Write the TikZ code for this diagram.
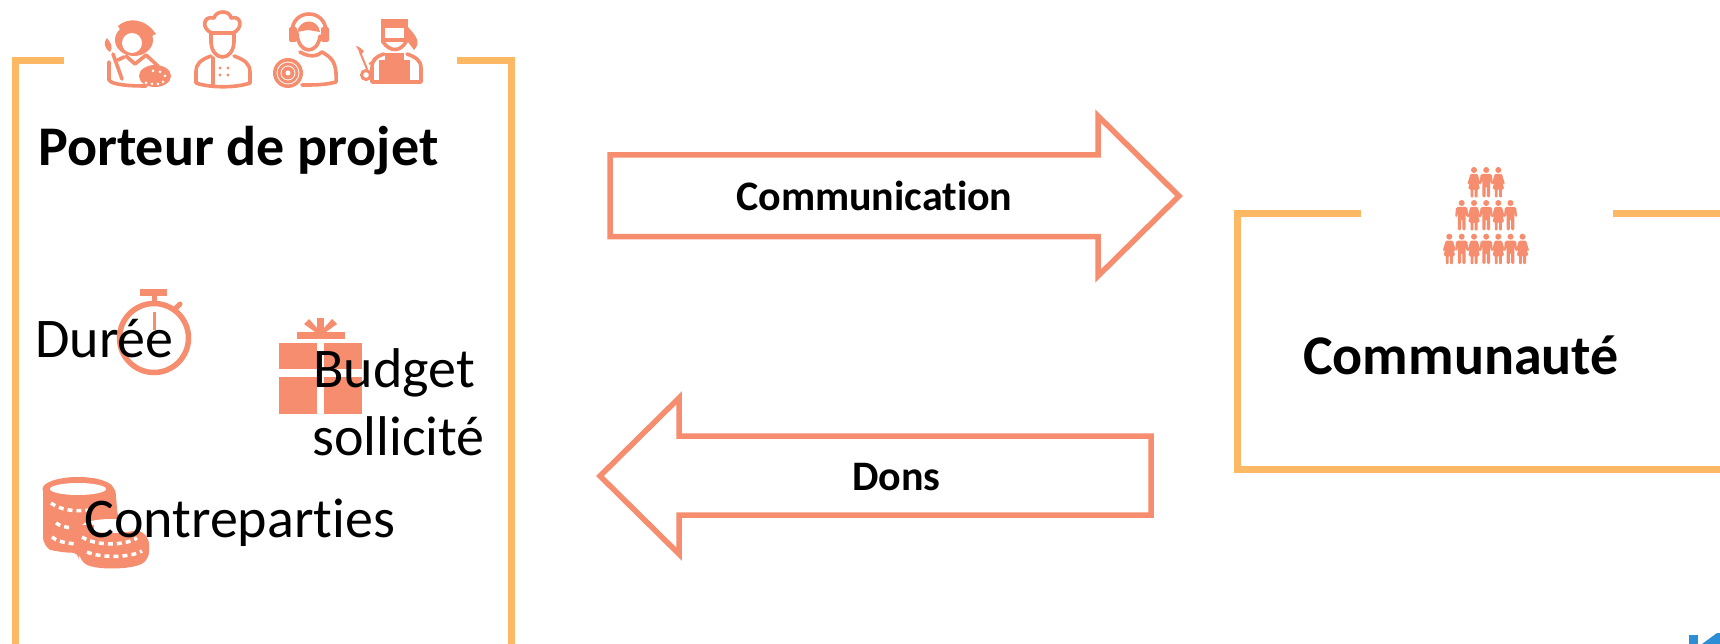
\documentclass[tikz,border=0pt]{standalone}
\usepackage{fontspec}
\setmainfont[Ligatures=NoCommon]{Carlito}
\definecolor{ico}{HTML}{F58D6E}
\definecolor{frameor}{HTML}{FDB863}
\definecolor{logoblue}{HTML}{2C8FD6}
\tikzset{
  bracket/.style={draw=frameor,line width=7pt,miter limit=10},
  bigarrow/.style={draw=ico,line width=5.5pt,miter limit=20,fill=white},
  lab/.style={anchor=base west,inner sep=0pt,text=black},
  titlelab/.style={lab,font=\fontsize{56}{56}\selectfont\bfseries},
  arrowlab/.style={lab,font=\fontsize{42}{42}\selectfont\bfseries},
  itemlab/.style={lab,font=\fontsize{56}{56}\selectfont},
  lineicon/.style={draw=ico,line width=3.6pt,line cap=round,line join=round},
  man/.pic={
    \fill[ico] (0,0) circle[radius=3pt];
    \fill[ico,rounded corners=1.5pt] (-5.6,4) -- (5.6,4) -- (6.6,14) -- (4.8,14.5) -- (3.9,9) -- (3.9,27.5) -- (0.7,27.5) -- (0.7,16) -- (-0.7,16) -- (-0.7,27.5) -- (-3.9,27.5) -- (-3.9,9) -- (-4.8,14.5) -- (-6.6,14) -- cycle;
  },
  woman/.pic={
    \fill[ico] (0,0) circle[radius=3pt];
    \fill[ico,rounded corners=1pt] (-3.6,4) -- (3.6,4) -- (6.6,14) -- (5,14.5) -- (3.6,10) -- (5.8,19) -- (3.5,19) -- (3.5,27.5) -- (0.7,27.5) -- (0.7,19) -- (-0.7,19) -- (-0.7,27.5) -- (-3.5,27.5) -- (-3.5,19) -- (-5.8,19) -- (-3.6,10) -- (-5,14.5) -- (-6.6,14) -- cycle;
  },
}
\begin{document}
\begin{tikzpicture}[x=1pt,y=-1pt]
\useasboundingbox (0,0) rectangle (1720,644);
\fill[white] (0,0) rectangle (1720,644);

% frames
\draw[bracket] (64,60.5) -- (15.5,60.5) -- (15.5,644);
\draw[bracket] (457,60.5) -- (511,60.5) -- (511,644);
\draw[bracket] (1361,213.5) -- (1237.5,213.5) -- (1237.5,469.5) -- (1720,469.5);
\draw[bracket] (1613,213.5) -- (1720,213.5);

% arrows
\draw[bigarrow] (610,155) -- (1098,155) -- (1098,116) -- (1179,196) -- (1098,276) -- (1098,236.7) -- (610,236.7) -- cycle;
\draw[bigarrow] (1151,436) -- (679,436) -- (679,398) -- (600,476) -- (679,554) -- (679,515) -- (1151,515) -- cycle;

% artist
\fill[ico] (118,26) .. controls (128,17) and (145,18) .. (156,34) -- (150,37) -- (122,33) -- cycle;
\fill[ico] (134,40) ellipse[x radius=19pt,y radius=16pt];
\fill[white] (132,43) circle[radius=10pt];
\draw[lineicon] (126,56) -- (135,64) -- (146,55) -- (158,66);
\draw[lineicon] (124,57) -- (118,60);
\draw[lineicon] (109,62) -- (109,80) .. controls (112,85) and (130,86) .. (146,86);
\draw[lineicon] (113,54) -- (122,79);
\fill[ico] (110,52) .. controls (103,47) and (104,42) .. (107,38) .. controls (110,42) and (114,47) .. (110,52) -- cycle;
\fill[ico] (155,76) ellipse[x radius=16pt,y radius=11pt];
\foreach \a/\b in {146/83,152/84,158/84,163/82,153/71,160/72,165/76}{\fill[white] (\a,\b) circle[radius=1.5pt];}

% chef
\draw[lineicon] (212,33) .. controls (201,29) and (203,15) .. (214,18) .. controls (216,10) and (230,10) .. (231,18) .. controls (242,15) and (243,29) .. (233,33) -- cycle;
\draw[lineicon] (211,33) -- (211,42) .. controls (212,62) and (233,62) .. (234,42) -- (234,33);
\draw[lineicon] (211,56) .. controls (200,60) and (196,64) .. (196,72) -- (196,83) .. controls (210,88) and (236,88) .. (250,83) -- (250,72) .. controls (250,64) and (245,60) .. (234,56);
\draw[lineicon] (213,58) -- (213,86);
\foreach \a/\b in {220/68,228/68,220/75,228/75}{\fill[ico] (\a,\b) circle[radius=1.7pt];}

% dj
\draw[lineicon] (292,32) .. controls (292,8) and (326,8) .. (326,32);
\fill[ico,rounded corners=2pt] (289,27) rectangle (297,42);
\fill[ico,rounded corners=2pt] (321,27) rectangle (329,42);
\fill[ico] (297,32) .. controls (300,18) and (318,18) .. (320,32) -- (308,30) -- cycle;
\draw[lineicon] (297,33) .. controls (298,55) and (318,55) .. (320,36);
\draw[lineicon] (300,52) .. controls (310,58) and (318,56) .. (322,52) .. controls (332,58) and (337,62) .. (336,82) .. controls (325,85) and (315,85) .. (302,85);
\fill[ico] (288,73) circle[radius=15pt];
\draw[white,line width=0.8pt] (288,73) circle[radius=11pt];
\draw[white,line width=0.8pt] (288,73) circle[radius=7pt];
\fill[white] (288,73) circle[radius=2.5pt];

% welder
\draw[lineicon] (383,21) -- (406,21) -- (406,42) .. controls (400,52) and (390,52) .. (383,42) -- cycle;
\fill[ico] (381,19) rectangle (408,28);
\fill[ico] (381,38) rectangle (408,42);
\fill[ico] (408,27) .. controls (415,35) and (422,42) .. (414,50) -- (408,42) -- cycle;
\draw[lineicon] (384,54) .. controls (375,57) and (372,60) .. (372,68) -- (372,82) -- (421,82) -- (421,68) .. controls (421,60) and (415,57) .. (407,54);
\fill[ico] (379,60) rectangle (410,82);
\fill[ico] (385,53) rectangle (404,61);
\draw[ico,line width=2pt,line cap=round] (360,52) -- (367,69);
\fill[ico] (359,47) -- (356,46) -- (361,55) -- (364,51) -- cycle;
\draw[ico,line width=3pt] (366,75) circle[radius=4.5pt];
\draw[ico,line width=2pt] (369,64) -- (376,60);

% stopwatch
\draw[ico,line width=5.5pt] (154,338) circle[radius=34.5pt];
\fill[ico] (140,289) rectangle (167,295.5);
\fill[ico] (151.5,295) rectangle (156.5,304);
\fill[ico] (152.5,312) rectangle (155.5,330);
\draw[ico,line width=5pt,line cap=round] (174,310) -- (180,304);

% gift
\fill[ico] (279,343) rectangle (317,369);
\fill[ico] (324,343) rectangle (362,369);
\fill[ico] (279,377) rectangle (317,414);
\fill[ico] (324,377) rectangle (362,414);
\fill[ico] (297,332) rectangle (345,339);
\fill[ico] (317,318) rectangle (324,332);
\fill[ico] (304,324) -- (309,319) -- (317,328) -- (317,332) -- (315,332) -- cycle;
\fill[ico] (337,324) -- (332,319) -- (324,328) -- (324,332) -- (326,332) -- cycle;

% coins
\fill[ico,rounded corners=8pt] (43,485) -- (115,485) -- (118,520) -- (149,536) -- (149,560) .. controls (130,570) and (95,570) .. (79,560) -- (79,552) .. controls (65,553) and (50,550) .. (43,545) -- cycle;
\fill[ico] (78,489) ellipse[x radius=35.5pt,y radius=12pt];
\fill[white] (78,489) ellipse[x radius=28pt,y radius=6pt];
\draw[white,line width=3.5pt,dash pattern=on 5pt off 4pt] (51,503) .. controls (60,510) and (75,512) .. (90,510);
\draw[white,line width=3.5pt,dash pattern=on 5pt off 4pt] (56,523) .. controls (60,526) and (64,527) .. (72,528);
\draw[white,line width=3.5pt,dash pattern=on 5pt off 4pt] (52,537) .. controls (56,541) and (65,543) .. (76,544);
\fill[white] (112,526) ellipse[x radius=30pt,y radius=7pt];
\fill[ico] (78,525) rectangle (94,534);
\draw[white,line width=3.5pt,dash pattern=on 5pt off 4pt] (82,537) .. controls (95,546) and (125,546) .. (137,538);
\draw[white,line width=3.5pt,dash pattern=on 5pt off 4pt] (87,552) .. controls (100,558) and (130,558) .. (142,551);

% community pyramid
\foreach \cx/\k in {1474/woman,1486.2/man,1498.3/woman}{\pic at (\cx,170) {\k};}
\foreach \cx/\k in {1461.7/man,1474/woman,1486.2/man,1498.3/woman,1510.5/man}{\pic at (\cx,203) {\k};}
\foreach \cx/\k in {1449.3/woman,1461.7/man,1474/woman,1486.2/man,1498.3/woman,1510.5/man,1522.5/woman}{\pic at (\cx,236.7) {\k};}

% logo corner
\fill[logoblue] (1689,635) rectangle (1698,644);
\fill[logoblue] (1702,644) -- (1717,633) -- (1720,633) -- (1720,644) -- cycle;

% labels
\node[titlelab] (porteur) at (38,166) {Porteur de projet};
\node[titlelab] (communaute) at (1303,374) {Communauté};
\node[arrowlab] (communication) at (736,211) {Communication};
\node[arrowlab] (dons) at (852,490) {Dons};
\node[itemlab] (duree) at (35,357) {Durée};
\node[itemlab] (budget) at (313,387) {Budget};
\node[itemlab] (sollicite) at (312,455) {sollicité};
\node[itemlab] (contreparties) at (84,537) {Contreparties};
\end{tikzpicture}
\end{document}
